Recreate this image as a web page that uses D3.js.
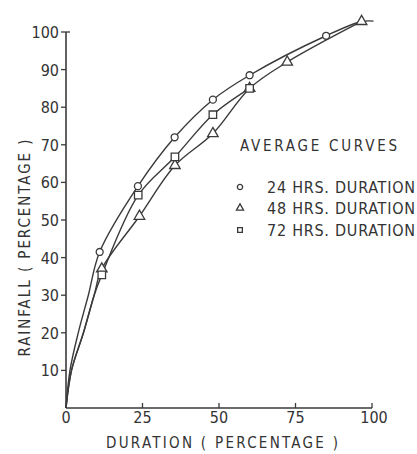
<!DOCTYPE html>
<html>
<head>
<meta charset="utf-8">
<script src="https://cdn.jsdelivr.net/npm/d3@7"></script>
<style>
  body { margin: 0; background: #fff; }
  svg { display: block; }
  text { font-family: "DejaVu Sans Condensed", "DejaVu Sans", sans-serif; fill: #333; }
</style>
</head>
<body>
<svg id="chart"></svg>
<script>
// Data (duration %, rainfall %)
const seriesNames = ['24 HRS. DURATION', '48 HRS. DURATION', '72 HRS. DURATION'];
const symbols = ['circle', 'triangle', 'square'];

// traced points of the curves near the origin (no markers there)
const leadUpper = [[0, 0], [1.3, 10], [4, 20], [7.3, 30]];
const leadLower = [[0, 0], [1.8, 10], [5.7, 20], [9.2, 30]];

// marked points
const points24 = [[11, 41.5], [23.5, 59], [35.5, 72], [48, 82], [60, 88.5], [85, 99]];
const points48 = [[11.7, 37], [24, 51], [35.6, 64.5], [48, 73], [60, 85], [72.3, 92], [96.6, 102.8]];
const points72 = [[11.7, 35.4], [23.6, 56.6], [35.6, 66.8], [48, 78], [60, 85]];

// the 24 hr curve runs on to the end of the 48 hr curve
const tail24 = [[96.6, 102.8], [100.5, 102.9]];

const xTicks = [0, 25, 50, 75, 100];
const yTicks = [10, 20, 30, 40, 50, 60, 70, 80, 90, 100];

const width = 417, height = 454;
const svg = d3.select('#chart').attr('width', width).attr('height', height);

const x = d3.scaleLinear().domain([0, 100]).range([66, 372]);
const y = d3.scaleLinear().domain([0, 100]).range([408, 32]);

const ink = '#3a3a3a';

// axes
const axes = svg.append('g');
axes.append('line')
    .attr('x1', x(0)).attr('x2', x(0))
    .attr('y1', y(0)).attr('y2', y(100))
    .attr('stroke', ink).attr('stroke-width', 1.6);
axes.append('line')
    .attr('x1', x(0)).attr('x2', x(100))
    .attr('y1', y(0)).attr('y2', y(0))
    .attr('stroke', ink).attr('stroke-width', 1.6);

// y ticks point left, top one turns right
axes.selectAll('.ytick').data(yTicks).join('line')
    .attr('class', 'ytick')
    .attr('x1', x(0) - 5).attr('x2', x(0))
    .attr('y1', d => y(d)).attr('y2', d => y(d))
    .attr('stroke', ink).attr('stroke-width', 1.3);
axes.append('line')
    .attr('x1', x(0)).attr('x2', x(0) + 4)
    .attr('y1', y(100)).attr('y2', y(100))
    .attr('stroke', ink).attr('stroke-width', 1.3);

axes.selectAll('.ylab').data(yTicks).join('text')
    .attr('class', 'ylab')
    .attr('x', x(0) - 7)
    .attr('y', d => y(d) + 6)
    .attr('text-anchor', 'end')
    .attr('font-size', 16)
    .text(d => d);

// x ticks point up
axes.selectAll('.xtick').data(xTicks.slice(1)).join('line')
    .attr('class', 'xtick')
    .attr('x1', d => x(d)).attr('x2', d => x(d))
    .attr('y1', y(0)).attr('y2', y(0) - 5)
    .attr('stroke', ink).attr('stroke-width', 1.3);

axes.selectAll('.xlab').data(xTicks).join('text')
    .attr('class', 'xlab')
    .attr('x', d => x(d) + (d === 100 ? 2 : 0))
    .attr('y', y(0) + 15)
    .attr('text-anchor', 'middle')
    .attr('font-size', 16)
    .text(d => d);

// axis titles
svg.append('text')
    .attr('x', 222).attr('y', 448)
    .attr('text-anchor', 'middle')
    .attr('font-size', 15)
    .attr('textLength', 232)
    .attr('lengthAdjust', 'spacing')
    .text('DURATION ( PERCENTAGE )');

svg.append('text')
    .attr('transform', 'translate(30,248) rotate(-90)')
    .attr('text-anchor', 'middle')
    .attr('font-size', 15)
    .attr('textLength', 217)
    .attr('lengthAdjust', 'spacing')
    .text('RAINFALL ( PERCENTAGE )');

// curves
const line = d3.line()
    .x(d => x(d[0]))
    .y(d => y(d[1]))
    .curve(d3.curveCatmullRom.alpha(0.5));

const curves = [
    leadUpper.concat(points24, tail24),
    leadLower.concat(points48),
    leadLower.concat(points72)
];
const markers = [points24, points48, points72];

svg.append('g').selectAll('path').data(curves).join('path')
    .attr('d', line)
    .attr('fill', 'none')
    .attr('stroke', ink)
    .attr('stroke-width', 1.4);

const symbolGen = {
    circle: d3.symbol().type(d3.symbolCircle).size(38),
    triangle: d3.symbol().type(d3.symbolTriangle).size(48),
    square: d3.symbol().type(d3.symbolSquare).size(56)
};

markers.forEach((pts, i) => {
    svg.append('g').selectAll('path').data(pts).join('path')
        .attr('transform', d => `translate(${x(d[0])},${y(d[1])})`)
        .attr('d', symbolGen[symbols[i]]())
        .attr('fill', '#fff')
        .attr('stroke', ink)
        .attr('stroke-width', 1.3);
});

// legend
const legend = svg.append('g');
legend.append('text')
    .attr('x', 240).attr('y', 151)
    .attr('font-size', 15)
    .attr('textLength', 157)
    .attr('lengthAdjust', 'spacing')
    .text('AVERAGE  CURVES');

const legendRows = [187, 208, 230];
seriesNames.forEach((name, i) => {
    legend.append('path')
        .attr('transform', `translate(240,${legendRows[i]})`)
        .attr('d', d3.symbol().type([d3.symbolCircle, d3.symbolTriangle, d3.symbolSquare][i]).size(22)())
        .attr('fill', '#fff')
        .attr('stroke', ink)
        .attr('stroke-width', 1.3);
    legend.append('text')
        .attr('x', 267).attr('y', legendRows[i] + 6)
        .attr('font-size', 16)
        .attr('textLength', 148)
        .attr('lengthAdjust', 'spacing')
        .text(name);
});
</script>
</body>
</html>
